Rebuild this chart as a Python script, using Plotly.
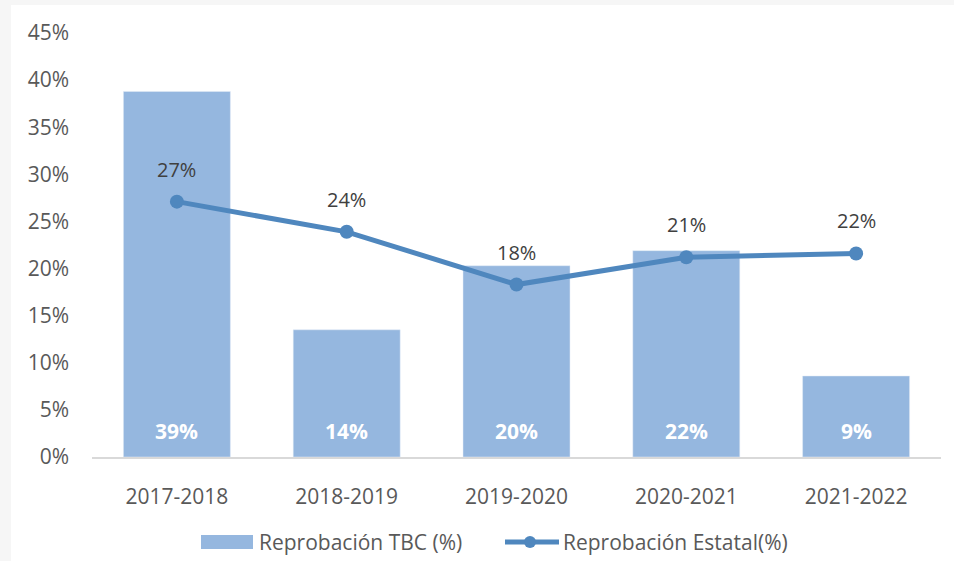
import plotly.graph_objects as go

periods = ['2017-2018', '2018-2019', '2019-2020', '2020-2021', '2021-2022']
tbc = [38.8, 13.5, 20.3, 21.9, 8.6]
estatal = [27.1, 23.9, 18.3, 21.2, 21.6]
y_ticks = [0, 5, 10, 15, 20, 25, 30, 35, 40, 45]
series_names = ['Reprobación TBC (%)', 'Reprobación Estatal(%)']

BAR_COLOR = '#95b7df'
LINE_COLOR = '#4f87be'
FONT = 'Open Sans, Lato, sans-serif'

fig = go.Figure()
fig.add_trace(go.Bar(
    x=periods, y=tbc, name=series_names[0],
    marker_color=BAR_COLOR, width=0.63, showlegend=False,
))
fig.add_trace(go.Scatter(
    x=periods, y=estatal, name=series_names[1],
    mode='lines+markers',
    line=dict(color=LINE_COLOR, width=5),
    marker=dict(color=LINE_COLOR, size=14), showlegend=False,
))

# labels inside bars (bottom) and above line points
for p, v in zip(periods, tbc):
    fig.add_annotation(x=p, y=0, text=f'{round(v)}%', showarrow=False,
                       yanchor='bottom', yshift=10,
                       font=dict(family=FONT, size=21, color='white', weight='bold'))
for p, v in zip(periods, estatal):
    fig.add_annotation(x=p, y=v, text=f'{round(v)}%', showarrow=False,
                       yanchor='bottom', yshift=17,
                       font=dict(family=FONT, size=20, color='#404040'))

# pixel geometry -> paper coords
L, R, T, B = 92, 13, 33, 104
W, H = 954, 561
pw, ph = W - L - R, H - T - B
px = lambda x: (x - L) / pw
py = lambda y: (H - B - y) / ph

# white chart panel on a light grey page
fig.add_shape(type='rect', xref='paper', yref='paper', layer='below',
              x0=px(11), x1=px(W), y0=py(H), y1=py(5),
              fillcolor='white', line_width=0)

# custom legend
fig.add_shape(type='rect', xref='paper', yref='paper',
              x0=px(201), x1=px(253), y0=py(549), y1=py(535),
              fillcolor=BAR_COLOR, line_width=0)
fig.add_annotation(xref='paper', yref='paper', x=px(257), y=py(542),
                   xanchor='left', yanchor='middle', showarrow=False,
                   text=series_names[0], font=dict(family=FONT, size=21, color='#595959'))
fig.add_shape(type='line', xref='paper', yref='paper',
              x0=px(505), x1=px(559), y0=py(542), y1=py(542),
              line=dict(color=LINE_COLOR, width=5))
fig.add_shape(type='circle', xref='paper', yref='paper',
              x0=px(524), x1=px(536), y0=py(548), y1=py(536),
              fillcolor=LINE_COLOR, line_width=0)
fig.add_annotation(xref='paper', yref='paper', x=px(561), y=py(542),
                   xanchor='left', yanchor='middle', showarrow=False,
                   text=series_names[1], font=dict(family=FONT, size=21, color='#595959'))

fig.update_layout(
    width=W, height=H,
    margin=dict(l=L, r=R, t=T, b=B),
    paper_bgcolor='#f6f6f6', plot_bgcolor='rgba(0,0,0,0)',
    font=dict(family=FONT, size=21, color='#595959'),
    showlegend=False,
    xaxis=dict(showgrid=False, showline=True, linecolor='#d9d9d9', linewidth=1.5,
               ticks='', ticklabelstandoff=20, tickfont=dict(size=21),
               automargin=False),
    yaxis=dict(range=[0, 45], tickvals=y_ticks,
               ticktext=[f'{t}%' for t in y_ticks],
               showgrid=False, zeroline=False, showline=False,
               ticklabelstandoff=22, tickfont=dict(size=21), automargin=False),
)

fig.write_html('out.html', config={'displayModeBar': False},
               post_script="document.body.style.margin='0';")
